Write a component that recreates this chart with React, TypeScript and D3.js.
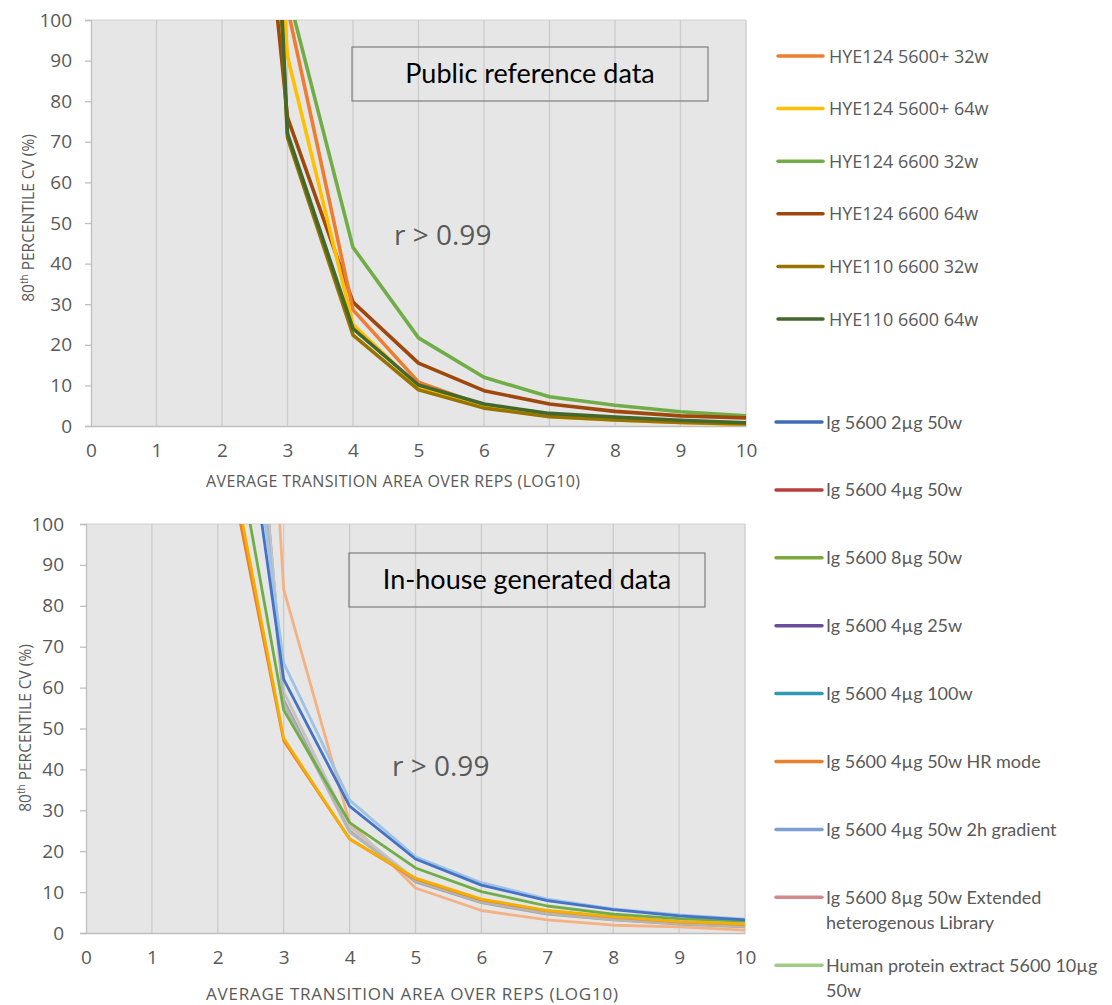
import { useEffect, useRef } from 'react';
import * as d3 from 'd3';

// x positions of the data points (log10 of area); x=2 values run off the top and are clipped
const xValues = [2, 3, 4, 5, 6, 7, 8, 9, 10];
const xTicks = [0, 1, 2, 3, 4, 5, 6, 7, 8, 9, 10];
const yTicks = [0, 10, 20, 30, 40, 50, 60, 70, 80, 90, 100];

// public reference data (top panel)
const topLabels = [
  'HYE124 5600+ 32w',
  'HYE124 5600+ 64w',
  'HYE124 6600 32w',
  'HYE124 6600 64w',
  'HYE110 6600 32w',
  'HYE110 6600 64w',
];
const topColors = ['#ED7D31', '#FFC000', '#70AD47', '#9E480E', '#997300', '#43682B'];
const hye124_5600p_32w = [400, 103, 28.6, 10.8, 5.0, 2.7, 1.8, 1.2, 0.6];
const hye124_5600p_64w = [316, 91, 25.0, 9.6, 4.8, 2.4, 1.5, 0.9, 0.3];
const hye124_6600_32w = [400, 107, 44.0, 21.7, 12.0, 7.2, 5.1, 3.5, 2.5];
const hye124_6600_64w = [236, 76, 30.5, 15.5, 8.7, 5.4, 3.6, 2.5, 2.0];
const hye110_6600_32w = [393, 71, 22.4, 8.9, 4.4, 2.3, 1.5, 0.9, 0.5];
const hye110_6600_64w = [422, 72, 24.0, 10.1, 5.4, 3.1, 2.2, 1.4, 0.8];
const topSeries = [
  hye124_5600p_32w, hye124_5600p_64w, hye124_6600_32w,
  hye124_6600_64w, hye110_6600_32w, hye110_6600_64w,
];
// draw order so that the dark ones sit on top like in the original
const topOrder = [2, 3, 0, 1, 4, 5];

// in-house data (bottom panel)
const bottomLabels = [
  ['Ig 5600 2µg 50w'],
  ['Ig 5600 4µg 50w'],
  ['Ig 5600 8µg 50w'],
  ['Ig 5600 4µg 25w'],
  ['Ig 5600 4µg 100w'],
  ['Ig 5600 4µg 50w HR mode'],
  ['Ig 5600 4µg 50w 2h gradient'],
  ['Ig 5600 8µg 50w Extended', 'heterogenous Library'],
  ['Human protein extract 5600 10µg', '50w'],
];
const bottomLegendColors = ['#3F6EB5', '#B5403A', '#7DA83E', '#6B4C9A', '#2E9AB5', '#E8812D', '#7E9FD6', '#D48A8A', '#A3CB88'];
const bottomLineColors = ['#4472C4', '#ED7D31', '#A5A5A5', '#F2B000', '#9DC3E6', '#70AD47', '#C4C4C4', '#F4B183', '#B5B5B5'];
const ig_2ug_50w = [177, 62, 31.0, 18.1, 11.7, 7.9, 5.7, 4.2, 3.2];
const ig_4ug_50w = [128, 47, 23.0, 13.2, 8.1, 5.4, 3.9, 2.7, 2.1];
const ig_8ug_50w = [250, 57, 25.0, 12.5, 7.4, 4.6, 3.2, 2.2, 1.5];
const ig_4ug_25w = [132, 47.6, 23.0, 13.4, 8.3, 5.5, 4.0, 2.8, 2.2];
const ig_4ug_100w = [187, 66, 32.5, 18.6, 12.3, 8.3, 5.9, 4.4, 3.4];
const ig_4ug_50w_hr = [144, 54.5, 27.0, 15.9, 10.1, 6.6, 4.6, 3.5, 2.9];
const ig_4ug_50w_2h = [240, 59, 26.0, 13.0, 7.8, 5.0, 3.4, 2.4, 1.7];
const ig_8ug_50w_ext = [350, 84, 27.0, 11.0, 5.5, 3.2, 1.9, 1.5, 0.7];
const human_10ug_50w = [230, 56, 24.7, 12.8, 7.6, 4.8, 3.3, 2.3, 1.6];
const bottomSeries = [
  ig_2ug_50w, ig_4ug_50w, ig_8ug_50w, ig_4ug_25w, ig_4ug_100w,
  ig_4ug_50w_hr, ig_4ug_50w_2h, ig_8ug_50w_ext, human_10ug_50w,
];
const bottomOrder = [7, 2, 6, 8, 1, 3, 5, 4, 0];

const GRAY_TEXT = '#595959';
const UI_FONT = '"Open Sans", "Noto Sans", sans-serif';
const CAL_FONT = 'Lato, "Open Sans", sans-serif';

const drawPanel = (svg, cfg) => {
  const x = d3.scaleLinear().domain([0, 10]).range([cfg.left, cfg.right]);
  const y = d3.scaleLinear().domain([0, 100]).range([cfg.bottom, cfg.top]);

  const g = svg.append('g');
  g.append('rect')
    .attr('x', cfg.left).attr('y', cfg.top)
    .attr('width', cfg.right - cfg.left).attr('height', cfg.bottom - cfg.top)
    .attr('fill', '#E6E6E6');

  // vertical gridlines
  g.selectAll('.grid')
    .data(xTicks.slice(1))
    .enter()
    .append('line')
    .attr('x1', d => x(d)).attr('x2', d => x(d))
    .attr('y1', cfg.top).attr('y2', cfg.bottom)
    .attr('stroke', '#CCCCCC').attr('stroke-width', 1.3);

  g.append('line')
    .attr('x1', cfg.left).attr('x2', cfg.right)
    .attr('y1', cfg.top).attr('y2', cfg.top)
    .attr('stroke', '#D0D0D0').attr('stroke-width', 1);

  // y axis
  const yAxis = g.append('g')
    .attr('transform', `translate(${cfg.left},0)`)
    .call(d3.axisLeft(y).tickValues(yTicks).tickSize(6).tickPadding(cfg.yPad));
  yAxis.select('.domain').attr('stroke', '#BFBFBF').attr('stroke-width', 1.3);
  yAxis.selectAll('.tick line').attr('stroke', '#BFBFBF').attr('stroke-width', 1.3);
  yAxis.selectAll('.tick text')
    .attr('fill', GRAY_TEXT)
    .style('font-family', UI_FONT)
    .style('font-size', `${cfg.tickSize}px`);

  // x axis
  const xAxis = g.append('g')
    .attr('transform', `translate(0,${cfg.bottom})`)
    .call(d3.axisBottom(x).tickValues(xTicks).tickSize(0).tickPadding(cfg.xPad));
  xAxis.select('.domain').attr('stroke', '#BFBFBF').attr('stroke-width', 1.3);
  xAxis.selectAll('.tick text')
    .attr('fill', GRAY_TEXT)
    .style('font-family', UI_FONT)
    .style('font-size', `${cfg.tickSize}px`);

  // lines, clipped to the plot area
  const clipId = `clip-${cfg.id}`;
  svg.append('defs').append('clipPath').attr('id', clipId)
    .append('rect')
    .attr('x', cfg.left).attr('y', cfg.top)
    .attr('width', cfg.right - cfg.left).attr('height', cfg.bottom - cfg.top);

  const line = d3.line()
    .x((d, i) => x(xValues[i]))
    .y(d => y(d));

  const lines = g.append('g').attr('clip-path', `url(#${clipId})`);
  cfg.order.forEach(i => {
    lines.append('path')
      .attr('d', line(cfg.series[i]))
      .attr('fill', 'none')
      .attr('stroke', cfg.colors[i])
      .attr('stroke-width', cfg.lineWidth)
      .attr('stroke-linejoin', 'round');
  });

  // annotation box
  g.append('rect')
    .attr('x', cfg.box[0]).attr('y', cfg.box[1])
    .attr('width', cfg.box[2]).attr('height', cfg.box[3])
    .attr('fill', 'none').attr('stroke', '#7F7F7F').attr('stroke-width', 1.2);
  g.append('text')
    .attr('x', cfg.box[0] + cfg.box[2] / 2)
    .attr('y', cfg.box[1] + cfg.box[3] / 2 + 9)
    .attr('text-anchor', 'middle')
    .style('font-family', CAL_FONT)
    .style('font-size', '27px')
    .attr('fill', '#000')
    .text(cfg.boxText);

  g.append('text')
    .attr('x', cfg.rPos[0]).attr('y', cfg.rPos[1])
    .style('font-family', UI_FONT)
    .style('font-size', '28px')
    .attr('fill', GRAY_TEXT)
    .text('r > 0.99');

  // axis titles
  g.append('text')
    .attr('x', cfg.xTitle[0]).attr('y', cfg.xTitle[1])
    .attr('text-anchor', 'middle')
    .attr('textLength', cfg.xTitle[2])
    .style('font-family', UI_FONT)
    .style('font-size', `${cfg.xTitleSize}px`)
    .attr('fill', GRAY_TEXT)
    .text('AVERAGE TRANSITION AREA OVER REPS (LOG10)');

  const yt = g.append('text')
    .attr('transform', `translate(${cfg.yTitle[0]},${cfg.yTitle[1]}) rotate(-90)`)
    .attr('text-anchor', 'middle')
    .style('font-family', UI_FONT)
    .style('font-size', '15.5px')
    .attr('fill', GRAY_TEXT);
  yt.append('tspan').text('80');
  yt.append('tspan').attr('dy', -6).style('font-size', '10px').text('th');
  yt.append('tspan').attr('dy', 6).text(' PERCENTILE CV (%)');
};

const App = () => {
  const svgRef = useRef(null);

  useEffect(() => {
    const svg = d3.select(svgRef.current);
    svg.selectAll('*').remove();

    drawPanel(svg, {
      id: 'top', left: 91, right: 746, top: 20, bottom: 426,
      series: topSeries, colors: topColors, order: topOrder, lineWidth: 3.6,
      tickSize: 19, yPad: 13, xPad: 18,
      box: [352, 47, 356, 54], boxText: 'Public reference data',
      rPos: [394, 245],
      xTitle: [393, 487, 374], xTitleSize: 16,
      yTitle: [34, 218],
    });

    drawPanel(svg, {
      id: 'bottom', left: 86, right: 745, top: 524, bottom: 933,
      series: bottomSeries, colors: bottomLineColors, order: bottomOrder, lineWidth: 2.8,
      tickSize: 19, yPad: 16, xPad: 18,
      box: [349, 553, 356, 54], boxText: 'In-house generated data',
      rPos: [392, 776],
      xTitle: [412, 1000, 412], xTitleSize: 17,
      yTitle: [31, 728],
    });

    // legends
    const topLeg = svg.append('g');
    topLabels.forEach((label, i) => {
      const ly = 56 + i * 52.6;
      topLeg.append('line')
        .attr('x1', 778).attr('x2', 823).attr('y1', ly).attr('y2', ly)
        .attr('stroke', topColors[i]).attr('stroke-width', 3.5).attr('stroke-linecap', 'round');
      topLeg.append('text')
        .attr('x', 829).attr('y', ly + 6.5)
        .style('font-family', UI_FONT).style('font-size', '18px')
        .attr('fill', GRAY_TEXT)
        .text(label);
    });

    const botLeg = svg.append('g');
    bottomLabels.forEach((lines, i) => {
      const ly = 422 + i * 67.9;
      botLeg.append('line')
        .attr('x1', 776).attr('x2', 822).attr('y1', ly).attr('y2', ly)
        .attr('stroke', bottomLegendColors[i]).attr('stroke-width', 3.5).attr('stroke-linecap', 'round');
      lines.forEach((t, j) => {
        botLeg.append('text')
          .attr('x', 826).attr('y', ly + 6.5 + j * 25)
          .style('font-family', CAL_FONT).style('font-size', '18px')
          .attr('fill', GRAY_TEXT)
          .text(t);
      });
    });
  }, []);

  return (
    <div style={{ position: 'absolute', left: 0, top: 0 }}>
      <svg ref={svgRef} width="1112" height="1005" style={{ display: 'block', background: '#fff' }}></svg>
    </div>
  );
};

export default App;
